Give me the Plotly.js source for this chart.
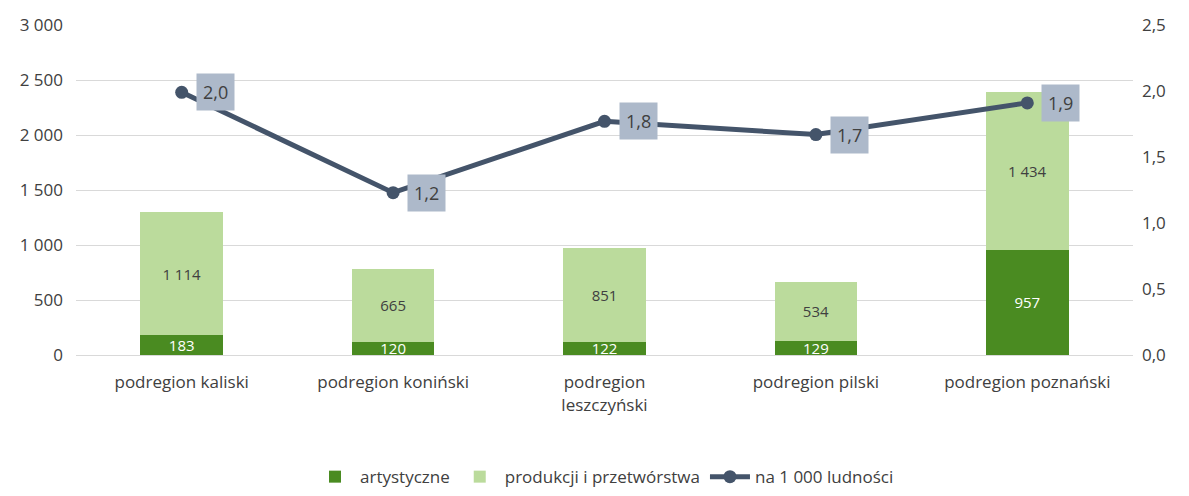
<!DOCTYPE html>
<html>
<head>
<meta charset="utf-8">
<script src="https://cdn.plot.ly/plotly-3.0.1.min.js"></script>
<style>html,body{margin:0;padding:0;background:#fff;}#chart{width:1189px;height:496px;}</style>
</head>
<body>
<div id="chart"></div>
<script>
const categories = ["podregion kaliski", "podregion koniński", "podregion<br>leszczyński", "podregion pilski", "podregion poznański"];
const artystyczne = [183, 120, 122, 129, 957];
const produkcji = [1114, 665, 851, 534, 1434];
const na1000 = [1.99, 1.23, 1.77, 1.67, 1.91];
const seriesNames = ["artystyczne", "produkcji i przetwórstwa", "na 1 000 ludności"];

const FONT = "Open Sans, Liberation Sans, sans-serif";
const dataTraces = [
  {
    type: "bar", x: categories, y: artystyczne, name: seriesNames[0],
    marker: {color: "#4A8B21"},
    texttemplate: "%{y:,d}", textposition: "inside", insidetextanchor: "middle",
    textfont: {color: "#ffffff", size: 15, family: FONT}, constraintext: "none",
    hoverinfo: "skip"
  },
  {
    type: "bar", x: categories, y: produkcji, name: seriesNames[1],
    marker: {color: "#BBDB9C"},
    texttemplate: "%{y:,d}", textposition: "inside", insidetextanchor: "middle",
    textfont: {color: "#404040", size: 15, family: FONT}, constraintext: "none",
    hoverinfo: "skip"
  },
  {
    type: "scatter", mode: "lines+markers", x: categories, y: na1000, yaxis: "y2",
    name: seriesNames[2],
    line: {color: "#44546A", width: 5},
    marker: {color: "#44546A", size: 13},
    hoverinfo: "skip"
  }
];

const annotations = categories.map((c, i) => ({
  x: c, y: na1000[i], xref: "x", yref: "y2",
  text: na1000[i].toFixed(1).replace(".", ","),
  showarrow: false, xanchor: "left", yanchor: "middle", xshift: 14,
  bgcolor: "#ADB9CA", borderpad: 6,
  font: {size: 18, color: "#404040", family: FONT}
}));

const layout = {
  width: 1189, height: 496,
  margin: {l: 76, r: 56, t: 25, b: 141, autoexpand: false},
  paper_bgcolor: "#ffffff", plot_bgcolor: "#ffffff",
  barmode: "stack", bargap: 0.61,
  separators: ", ",
  font: {family: FONT, color: "#404040", size: 17},
  showlegend: true,
  legend: {orientation: "h", x: 0.5, xanchor: "center", y: -0.37, yanchor: "middle",
           font: {size: 17, color: "#404040"}, traceorder: "normal", itemwidth: 40},
  xaxis: {
    type: "category", showgrid: false, showline: true, linecolor: "#D9D9D9", linewidth: 1,
    ticks: "", ticklabelstandoff: 12, tickfont: {size: 17, color: "#404040"}, automargin: false
  },
  yaxis: {
    range: [0, 3000], dtick: 500, tickformat: ",d", gridcolor: "#D9D9D9", gridwidth: 1,
    zeroline: false, showline: false, ticks: "", ticklabelstandoff: 12,
    tickfont: {size: 17, color: "#404040"}, automargin: false
  },
  yaxis2: {
    range: [0, 2.5], dtick: 0.5, tickformat: ".1f", overlaying: "y", side: "right",
    showgrid: false, zeroline: false, showline: false, ticks: "", ticklabelstandoff: 8,
    tickfont: {size: 17, color: "#404040"}, automargin: false
  },
  annotations: annotations
};

Plotly.newPlot("chart", dataTraces, layout, {staticPlot: true, displayModeBar: false});
</script>
</body>
</html>
